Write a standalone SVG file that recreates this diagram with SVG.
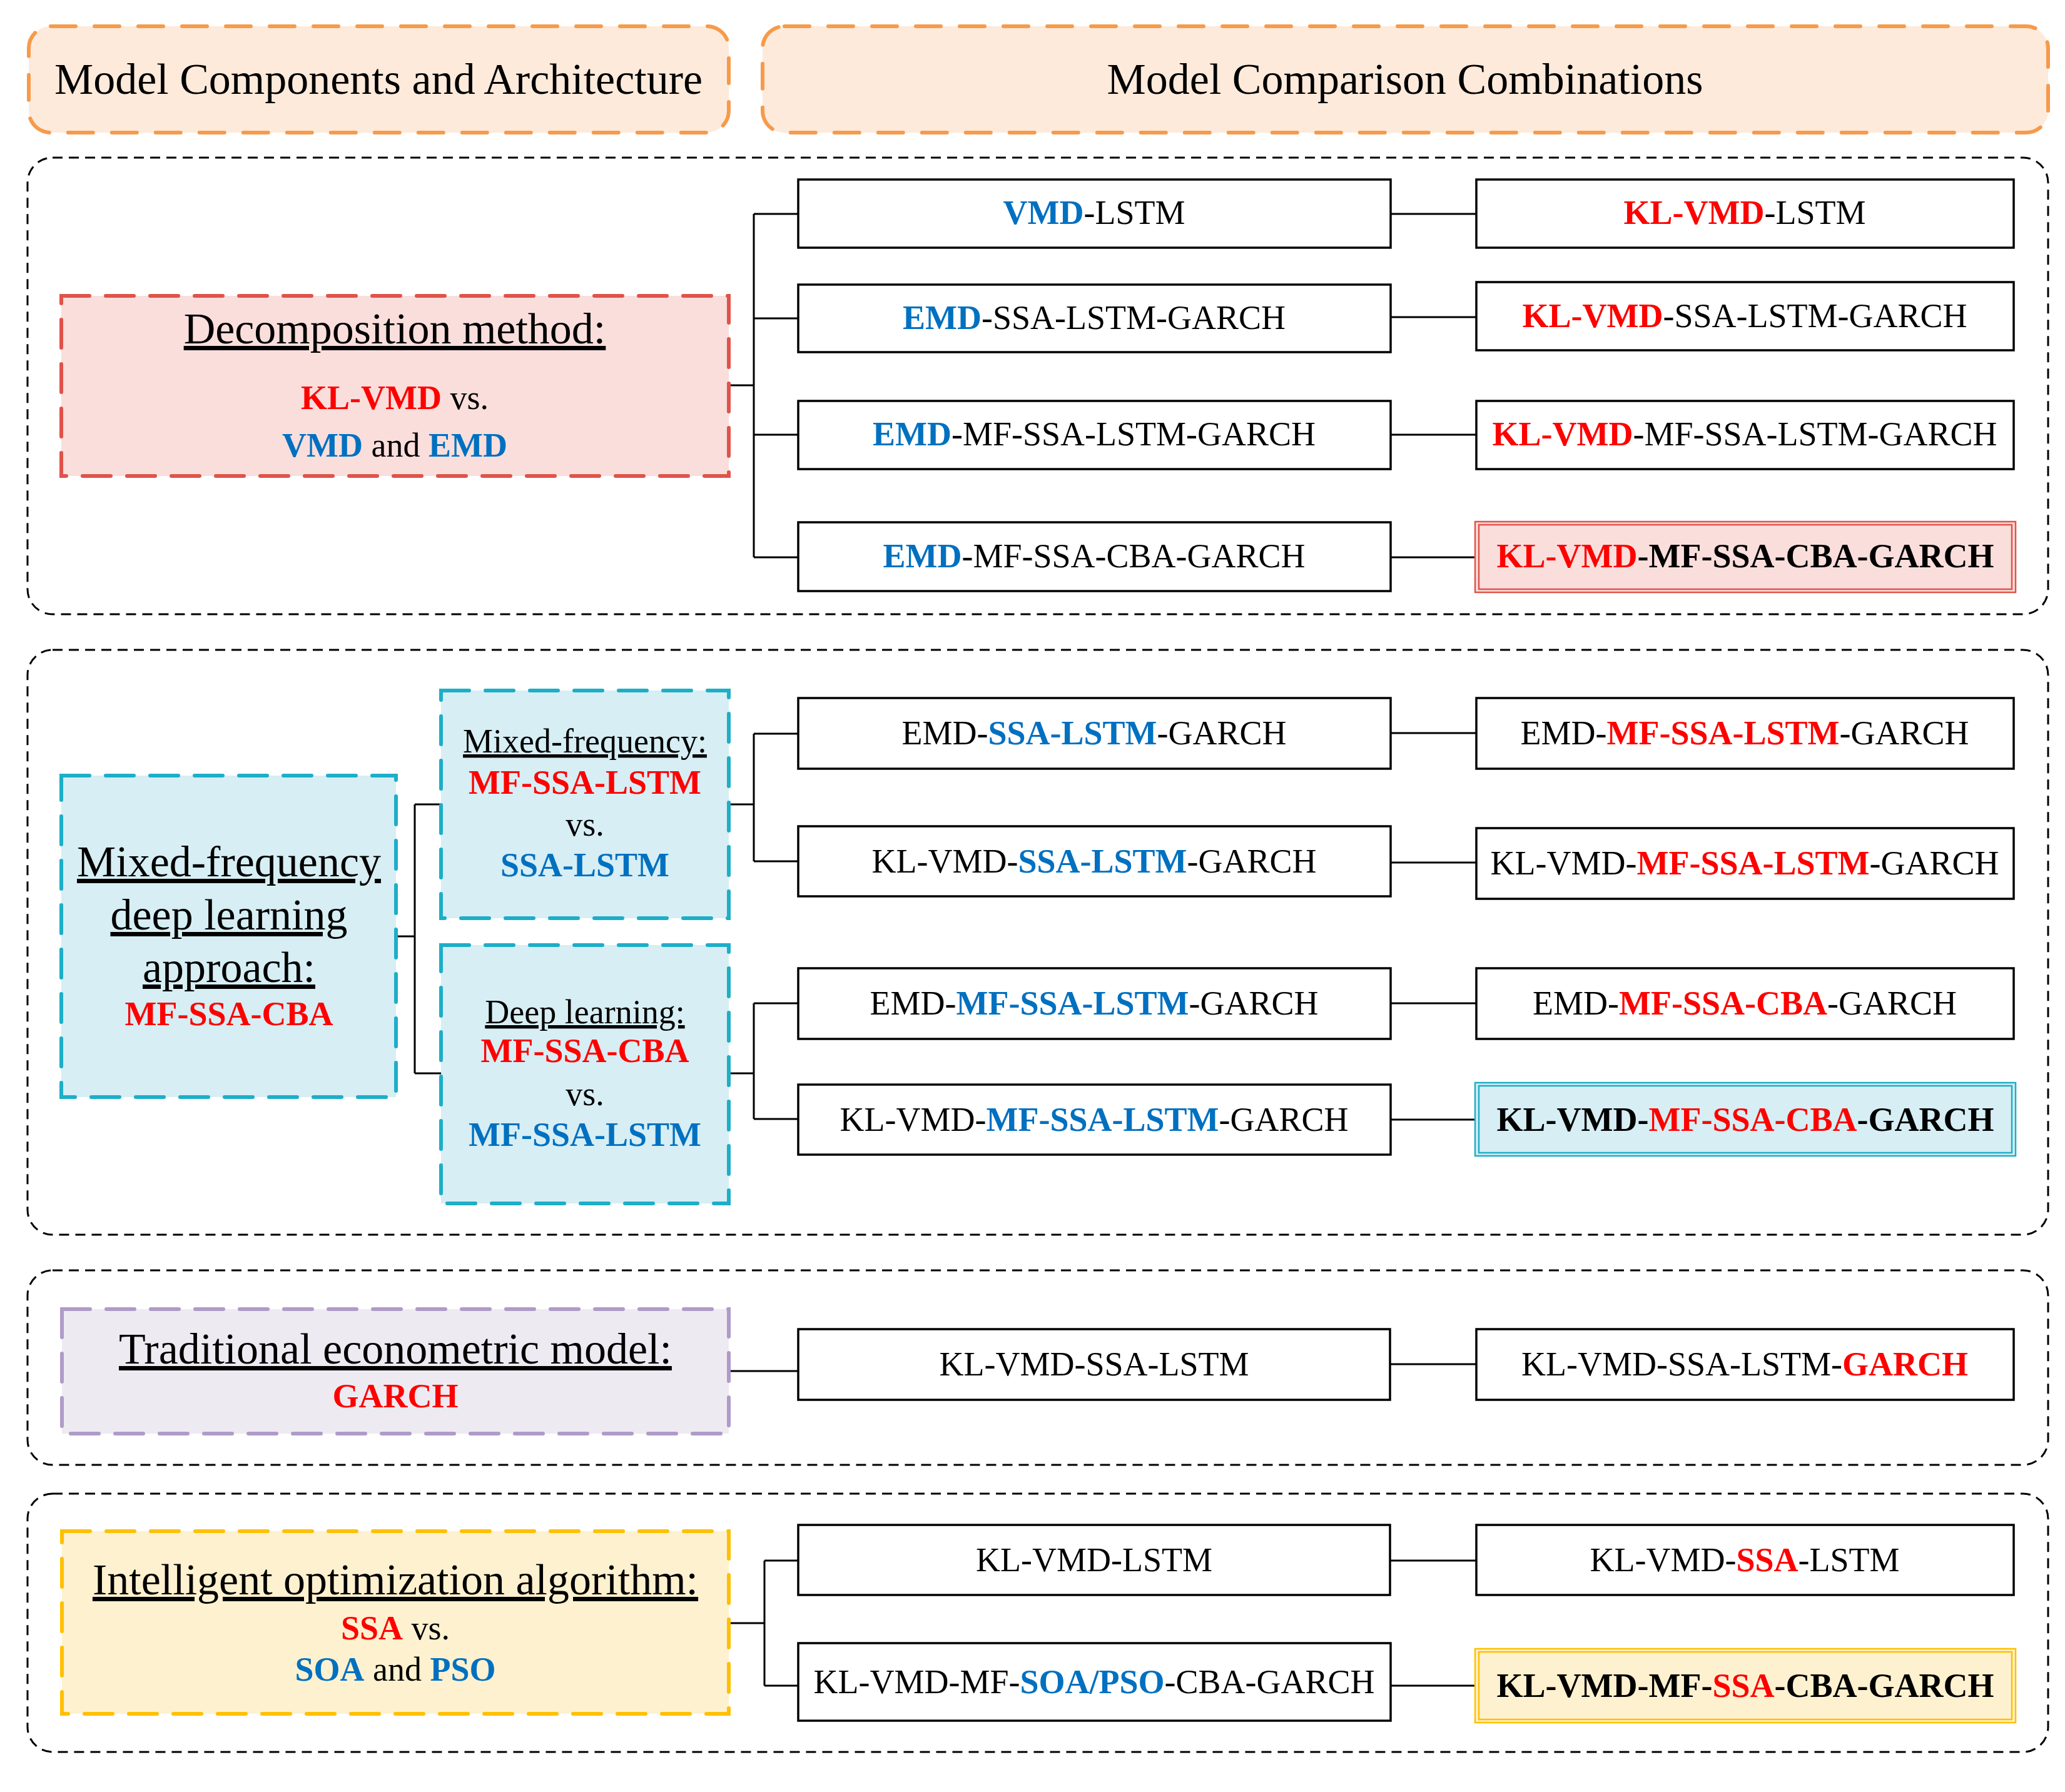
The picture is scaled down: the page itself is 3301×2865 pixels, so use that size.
<svg xmlns="http://www.w3.org/2000/svg" width="3301" height="2865" viewBox="0 0 3301 2865">
<style>
.sec{fill:none;stroke:#000;stroke-width:3;stroke-dasharray:16 10}
.hdr{fill:#FDEADB;stroke:#F79A4A;stroke-width:6;stroke-dasharray:40 30;stroke-linecap:round}
.red{fill:#F9DEDC;stroke:#E0534A;stroke-width:6;stroke-dasharray:45 26;stroke-linecap:round}
.cy{fill:#D6EEF4;stroke:#1DAEC8;stroke-width:6;stroke-dasharray:45 26;stroke-linecap:round}
.lav{fill:#EEEAF2;stroke:#AF9BC8;stroke-width:6;stroke-dasharray:45 26;stroke-linecap:round}
.gold{fill:#FEF1CF;stroke:#FFC000;stroke-width:6;stroke-dasharray:45 26;stroke-linecap:round}
.box{fill:#fff;stroke:#000;stroke-width:3.5}
.ln{fill:none;stroke:#000;stroke-width:3}
.t{font-family:"Liberation Serif","Times New Roman",serif;font-size:54px;text-anchor:middle;fill:#000}
.big{font-size:70px}
.u{text-decoration:underline}
.b{font-weight:bold}
.r{fill:#FF0000}
.bl{fill:#0070C0}
</style>
<rect width="3301" height="2865" fill="#fff"/>

<g id="header-left"><rect class="hdr" x="46" y="42" width="1119" height="170" rx="35"/><text class="t big" x="605" y="150">Model Components and Architecture</text></g>
<g id="header-right"><rect class="hdr" x="1219" y="42" width="2055" height="170" rx="35"/><text class="t big" x="2246" y="150">Model Comparison Combinations</text></g>

<g id="section-1"><rect class="sec" x="44" y="252" width="3230" height="730" rx="40"/></g>
<g id="section-2"><rect class="sec" x="44" y="1039" width="3230" height="935" rx="40"/></g>
<g id="section-3"><rect class="sec" x="44" y="2031" width="3230" height="311" rx="40"/></g>
<g id="section-4"><rect class="sec" x="44" y="2388" width="3230" height="413" rx="40"/></g>

<g id="connectors">
<path class="ln" d="M1165 616H1205M1205 342V891M1205 342H1276M1205 509H1276M1205 695H1276M1205 891H1276"/>
<path class="ln" d="M2223 342H2360M2223 507H2360M2223 695H2360M2223 891H2360"/>
<path class="ln" d="M633 1497H663M663 1286V1716M663 1286H705M663 1716H705"/>
<path class="ln" d="M1165 1286H1205M1205 1173V1377M1205 1173H1276M1205 1377H1276"/>
<path class="ln" d="M1165 1716H1205M1205 1604V1789M1205 1604H1276M1205 1789H1276"/>
<path class="ln" d="M2223 1172H2360M2223 1379H2360M2223 1604H2360M2223 1790H2360"/>
<path class="ln" d="M1165 2192H1276M2222 2181H2360"/>
<path class="ln" d="M1165 2595H1222M1222 2495V2695M1222 2495H1276M1222 2695H1276"/>
<path class="ln" d="M2222 2495H2360M2223 2695H2360"/>
</g>

<g id="decomposition">
<rect class="red" x="98" y="473" width="1067" height="288"/>
<text class="t big u" x="631" y="549">Decomposition method:</text>
<text class="t" x="631" y="654"><tspan class="b r">KL-VMD</tspan> vs.</text>
<text class="t" x="631" y="730"><tspan class="b bl">VMD</tspan> and <tspan class="b bl">EMD</tspan></text>
</g>

<g id="s1-l1"><rect class="box" x="1276" y="287" width="947" height="109"/><text class="t" x="1749" y="358"><tspan class="b bl">VMD</tspan>-LSTM</text></g>
<g id="s1-l2"><rect class="box" x="1276" y="455" width="947" height="108"/><text class="t" x="1749" y="526"><tspan class="b bl">EMD</tspan>-SSA-LSTM-GARCH</text></g>
<g id="s1-l3"><rect class="box" x="1276" y="641" width="947" height="109"/><text class="t" x="1749" y="712"><tspan class="b bl">EMD</tspan>-MF-SSA-LSTM-GARCH</text></g>
<g id="s1-l4"><rect class="box" x="1276" y="835" width="947" height="110"/><text class="t" x="1749" y="907"><tspan class="b bl">EMD</tspan>-MF-SSA-CBA-GARCH</text></g>
<g id="s1-r1"><rect class="box" x="2360" y="287" width="859" height="109"/><text class="t" x="2789" y="358"><tspan class="b r">KL-VMD</tspan>-LSTM</text></g>
<g id="s1-r2"><rect class="box" x="2360" y="451" width="859" height="109"/><text class="t" x="2789" y="523"><tspan class="b r">KL-VMD</tspan>-SSA-LSTM-GARCH</text></g>
<g id="s1-r3"><rect class="box" x="2360" y="641" width="859" height="109"/><text class="t" x="2789" y="712"><tspan class="b r">KL-VMD</tspan>-MF-SSA-LSTM-GARCH</text></g>
<g id="s1-r4"><rect x="2358" y="834" width="864" height="113" fill="#F9DEDC" stroke="#E0534A" stroke-width="2.5"/><rect x="2364" y="839" width="852" height="103" fill="none" stroke="#E0534A" stroke-width="2.5"/><text class="t b" x="2790" y="907"><tspan class="r">KL-VMD</tspan>-MF-SSA-CBA-GARCH</text></g>

<g id="mf-deep-learning">
<rect class="cy" x="98" y="1240" width="535" height="514"/>
<text class="t big u" x="366" y="1401">Mixed-frequency</text>
<text class="t big u" x="366" y="1486">deep learning</text>
<text class="t big u" x="366" y="1570">approach:</text>
<text class="t b r" x="366" y="1639">MF-SSA-CBA</text>
</g>
<g id="mixed-frequency">
<rect class="cy" x="705" y="1104" width="460" height="364"/>
<text class="t u" x="935" y="1203">Mixed-frequency:</text>
<text class="t b r" x="935" y="1269">MF-SSA-LSTM</text>
<text class="t" x="935" y="1336">vs.</text>
<text class="t b bl" x="935" y="1401">SSA-LSTM</text>
</g>
<g id="deep-learning">
<rect class="cy" x="705" y="1511" width="460" height="413"/>
<text class="t u" x="935" y="1636">Deep learning:</text>
<text class="t b r" x="935" y="1698">MF-SSA-CBA</text>
<text class="t" x="935" y="1767">vs.</text>
<text class="t b bl" x="935" y="1832">MF-SSA-LSTM</text>
</g>

<g id="s2-l1"><rect class="box" x="1276" y="1116" width="947" height="113"/><text class="t" x="1749" y="1190">EMD-<tspan class="b bl">SSA-LSTM</tspan>-GARCH</text></g>
<g id="s2-l2"><rect class="box" x="1276" y="1321" width="947" height="112"/><text class="t" x="1749" y="1395">KL-VMD-<tspan class="b bl">SSA-LSTM</tspan>-GARCH</text></g>
<g id="s2-l3"><rect class="box" x="1276" y="1548" width="947" height="113"/><text class="t" x="1749" y="1622">EMD-<tspan class="b bl">MF-SSA-LSTM</tspan>-GARCH</text></g>
<g id="s2-l4"><rect class="box" x="1276" y="1734" width="947" height="112"/><text class="t" x="1749" y="1808">KL-VMD-<tspan class="b bl">MF-SSA-LSTM</tspan>-GARCH</text></g>
<g id="s2-r1"><rect class="box" x="2360" y="1116" width="859" height="113"/><text class="t" x="2789" y="1190">EMD-<tspan class="b r">MF-SSA-LSTM</tspan>-GARCH</text></g>
<g id="s2-r2"><rect class="box" x="2360" y="1324" width="859" height="113"/><text class="t" x="2789" y="1398">KL-VMD-<tspan class="b r">MF-SSA-LSTM</tspan>-GARCH</text></g>
<g id="s2-r3"><rect class="box" x="2360" y="1548" width="859" height="113"/><text class="t" x="2789" y="1622">EMD-<tspan class="b r">MF-SSA-CBA</tspan>-GARCH</text></g>
<g id="s2-r4"><rect x="2358" y="1731" width="864" height="117" fill="#D6EEF4" stroke="#1DAEC8" stroke-width="2.5"/><rect x="2364" y="1736" width="852" height="107" fill="none" stroke="#1DAEC8" stroke-width="2.5"/><text class="t b" x="2790" y="1808">KL-VMD-<tspan class="r">MF-SSA-CBA</tspan>-GARCH</text></g>

<g id="econometric">
<rect class="lav" x="99" y="2093" width="1066" height="199"/>
<text class="t big u" x="632" y="2180">Traditional econometric model:</text>
<text class="t b r" x="632" y="2250">GARCH</text>
</g>
<g id="s3-l1"><rect class="box" x="1276" y="2125" width="946" height="113"/><text class="t" x="1749" y="2199">KL-VMD-SSA-LSTM</text></g>
<g id="s3-r1"><rect class="box" x="2360" y="2125" width="859" height="113"/><text class="t" x="2789" y="2199">KL-VMD-SSA-LSTM-<tspan class="b r">GARCH</tspan></text></g>

<g id="optimization">
<rect class="gold" x="99" y="2448" width="1066" height="292"/>
<text class="t big u" x="632" y="2549">Intelligent optimization algorithm:</text>
<text class="t" x="632" y="2621"><tspan class="b r">SSA</tspan> vs.</text>
<text class="t" x="632" y="2687"><tspan class="b bl">SOA</tspan> and <tspan class="b bl">PSO</tspan></text>
</g>
<g id="s4-l1"><rect class="box" x="1276" y="2438" width="946" height="112"/><text class="t" x="1749" y="2512">KL-VMD-LSTM</text></g>
<g id="s4-l2"><rect class="box" x="1276" y="2627" width="947" height="124"/><text class="t" x="1749" y="2707">KL-VMD-MF-<tspan class="b bl">SOA/PSO</tspan>-CBA-GARCH</text></g>
<g id="s4-r1"><rect class="box" x="2360" y="2438" width="859" height="112"/><text class="t" x="2789" y="2512">KL-VMD-<tspan class="b r">SSA</tspan>-LSTM</text></g>
<g id="s4-r2"><rect x="2358" y="2636" width="864" height="118" fill="#FEF1CF" stroke="#FFC000" stroke-width="2.5"/><rect x="2364" y="2641" width="852" height="108" fill="none" stroke="#FFC000" stroke-width="2.5"/><text class="t b" x="2790" y="2713">KL-VMD-MF-<tspan class="r">SSA</tspan>-CBA-GARCH</text></g>
</svg>
